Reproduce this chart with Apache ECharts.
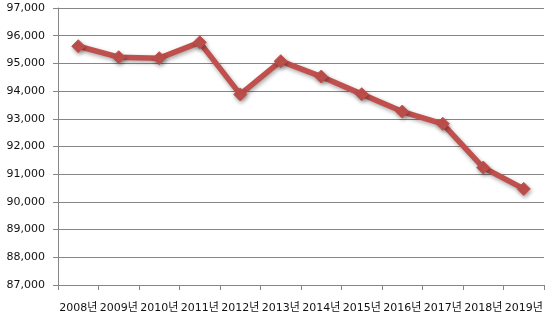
<!DOCTYPE html>
<html>
<head>
<meta charset="utf-8">
<script src="https://cdn.jsdelivr.net/npm/echarts@6/dist/echarts.min.js"></script>
<style>
  html, body { margin: 0; padding: 0; background: #fff; }
  #main { width: 554px; height: 327px; }
</style>
</head>
<body>
<div id="main"></div>
<script>
// 연도별 값
var years = ['2008년', '2009년', '2010년', '2011년', '2012년', '2013년',
             '2014년', '2015년', '2016년', '2017년', '2018년', '2019년'];
var values = [95620, 95225, 95190, 95760, 93880, 95080,
              94525, 93890, 93260, 92820, 91240, 90470];
var yMin = 87000;
var yMax = 97000;
var yStep = 1000;

var axisColor = '#868686';
var lineColor = '#C0504D';

var myChart = echarts.init(document.getElementById('main'));
myChart.setOption({
  animation: false,
  grid: {
    left: 58,
    right: 10,
    top: 8,
    bottom: 42
  },
  xAxis: {
    type: 'category',
    data: years,
    boundaryGap: true,
    axisLine: { lineStyle: { color: axisColor, width: 1 } },
    axisTick: { show: true, length: 5, lineStyle: { color: axisColor } },
    axisLabel: {
      interval: 0,
      margin: 18,
      fontSize: 11,
      color: '#111',
      fontFamily: '"DejaVu Sans", "Noto Sans CJK KR", sans-serif'
    }
  },
  yAxis: {
    type: 'value',
    min: yMin,
    max: yMax,
    interval: yStep,
    axisLine: { show: true, lineStyle: { color: axisColor, width: 1 } },
    axisTick: { show: true, length: 5, lineStyle: { color: axisColor } },
    splitLine: { show: true, lineStyle: { color: axisColor, width: 1 } },
    axisLabel: {
      margin: 13,
      fontSize: 11,
      color: '#111',
      fontFamily: '"DejaVu Sans", sans-serif',
      formatter: function (v) {
        return v.toLocaleString('en-US');
      }
    }
  },
  series: [
    {
      type: 'line',
      data: values,
      symbol: 'diamond',
      symbolSize: 13,
      lineStyle: {
        color: lineColor,
        width: 5.5,
        shadowColor: 'rgba(0,0,0,0.35)',
        shadowBlur: 4,
        shadowOffsetX: 1,
        shadowOffsetY: 2
      },
      itemStyle: {
        color: lineColor,
        borderColor: lineColor,
        shadowColor: 'rgba(0,0,0,0.35)',
        shadowBlur: 4,
        shadowOffsetX: 1,
        shadowOffsetY: 2
      }
    }
  ]
});
</script>
</body>
</html>
